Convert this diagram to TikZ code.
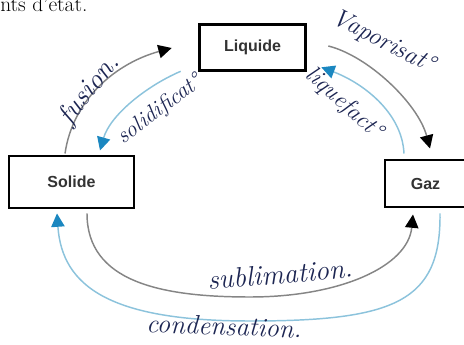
\documentclass[tikz,border=0pt]{standalone}
\usepackage{fontspec}
\setsansfont{Liberation Sans}
\usepackage{tikz}
\usetikzlibrary{arrows.meta}
\usetikzlibrary{positioning}

\definecolor{grisfl}{HTML}{858585}
\definecolor{bleufl}{HTML}{8CC3DC}
\definecolor{bleutip}{HTML}{1B87C0}
\definecolor{encre}{HTML}{1C2552}
\definecolor{textbox}{HTML}{333333}

\begin{document}
\begin{tikzpicture}
	[x=0.75pt,y=-0.75pt,
	etat/.style={draw=black,line width=2.2pt,fill=white,inner sep=0pt,text=textbox,font=\fontsize{12}{14}\selectfont\sffamily\bfseries},
	flgris/.style={draw=grisfl,line width=1.1pt,-{Triangle[length=10pt,width=10pt,color=black]}},
	flbleu/.style={draw=bleufl,line width=1.1pt,-{Triangle[length=10pt,width=10pt,color=bleutip]}},
	ecrit/.style={text=encre,inner sep=0pt,font=\itshape}]
	\useasboundingbox (0,0) rectangle (464,345);
	\node[anchor=base west,inner sep=0pt,font=\fontsize{16}{18}\selectfont] (titre) at (0,12) {nts d'état.};
	\node[etat,minimum width=80pt,minimum height=35pt] (liq) at (252.5,47.5) {Liquide};
	\node[etat,minimum width=93.75pt,minimum height=39pt] (sol) at (71.5,182) {Solide};
	\node[etat,minimum width=60.75pt,minimum height=35.25pt] (gaz) at (425.5,183.5) {Gaz};
	\coordinate (subbas) at (250,297);
	\coordinate (condbas) at (250,321);
	\draw[flgris] ([shift={(-6.5,-1)}]sol.north) .. controls +(8,-55) and +(-55,15) .. ([shift={(-26,0.5)}]liq.west);
	\draw[flbleu] ([shift={(-17,-1)}]liq.south west) .. controls +(-35,15) and +(10,-35) .. ([shift={(28.5,-4)}]sol.north);
	\draw[flgris] ([shift={(21,-1.5)}]liq.east) .. controls +(40,10) and +(-12,-45) .. ([shift={(4.5,-10)}]gaz.north);
	\draw[flbleu] ([shift={(-21.5,-5)}]gaz.north) .. controls +(-2,-42) and +(40,15) .. ([shift={(14,-5)}]liq.south east);
	\draw[flgris] ([shift={(15.5,4)}]sol.south) .. controls +(0,68) and +(-90,0) .. (subbas)
		.. controls +(90,0) and +(-5,52) .. ([shift={(-12.5,6)}]gaz.south);
	\draw[flbleu] ([shift={(14.5,5)}]gaz.south) .. controls +(1,88) and +(145,0) .. (condbas)
		.. controls +(-140,0) and +(5,73) .. ([shift={(-14.5,4)}]sol.south);
	\node[ecrit,rotate=52,font=\fontsize{21}{21}\selectfont\itshape] (lbfus) at (90,90) {fusion.};
	\node[ecrit,rotate=37,font=\fontsize{17}{17}\selectfont\itshape] (lbsol) at (160,110) {solidificat°};
	\node[ecrit,rotate=-27,font=\fontsize{19}{19}\selectfont\itshape] (lbvap) at (383,42) {Vaporisat°};
	\node[ecrit,rotate=-42,font=\fontsize{18}{18}\selectfont\itshape] (lbliq) at (344,104) {liquefact°};
	\node[ecrit,rotate=5,font=\fontsize{21}{21}\selectfont\itshape] (lbsub) at (280,274) {sublimation.};
	\node[ecrit,rotate=-2,font=\fontsize{20}{20}\selectfont\itshape] (lbcond) at (224,326) {condensation.};
\end{tikzpicture}
\end{document}
